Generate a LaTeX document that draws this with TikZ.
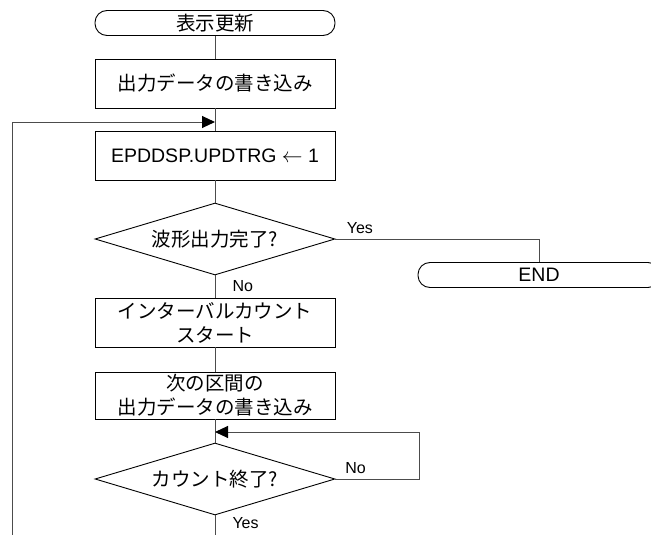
\documentclass[tikz,border=0pt]{standalone}
\usepackage{fontspec}
\setmainfont{Liberation Sans}
\newfontfamily\jpfont{Noto Sans CJK JP}
\usetikzlibrary{shapes.geometric,arrows.meta,calc}

\begin{document}
\begin{tikzpicture}[x=1pt,y=-1pt,
  box/.style={draw=black,line width=0.9pt,minimum width=240pt,minimum height=#1,
              inner sep=0pt,align=center,font=\fontsize{19.5}{24}\selectfont\jpfont},
  box/.default=49pt,
  terminal/.style={draw=black,line width=0.9pt,rounded corners=12pt,
                   minimum width=#1,minimum height=25pt,inner sep=0pt,
                   font=\fontsize{19.5}{24}\selectfont},
  terminal/.default=240pt,
  decision/.style={diamond,draw=black,line width=0.9pt,aspect=3.33,
                   minimum width=240pt,minimum height=72pt,inner sep=0pt,
                   font=\fontsize{19.5}{24}\selectfont\jpfont},
  line/.style={draw=black!70,line width=1pt},
  arrow/.style={line,-{Triangle[length=13pt,width=12pt,color=black]}},
  lbl/.style={font=\fontsize{16}{18}\selectfont,inner sep=0pt}
]
\useasboundingbox (0,0) rectangle (651,535);

\node[terminal] (start) at (215,23) {\jpfont 表示更新};
\node[box] (write) at (215,83.5) {出力データの書き込み};
\coordinate (join1) at (215,122);
\node[box,font=\fontsize{19.5}{24}\selectfont] (trig) at (215,155.5)
  {EPDDSP.UPDTRG $\leftarrow$ 1};
\node[decision] (done) at (215,239) {波形出力完了?};
\node[terminal=242pt] (fin) at (539,275) {END};
\node[box] (cntstart) at (215,322.5) {インターバルカウント\\スタート};
\node[box=47pt] (writenext) at (215,395.5) {次の区間の\\出力データの書き込み};
\coordinate (join2) at (215,432);
\node[decision] (cntend) at (215,479) {カウント終了?};
\coordinate (outbot) at (215,535);
\coordinate (inbot) at (12,535);

\draw[line] (start) -- (write);
\draw[line] (write) -- (trig);
\draw[line] (trig) -- (done);
\draw[line] (done.east) -| node[lbl,pos=0.06,above=5pt]{Yes} (fin.north);
\draw[line] (done.south) -- node[lbl,pos=0.5,right=17pt]{No} (cntstart);
\draw[line] (cntstart) -- (writenext);
\draw[line] (writenext) -- (cntend);
\draw[arrow] (cntend.east) -- ++(84,0) node[lbl,pos=0.24,above=5pt]{No} |- (join2);
\draw[line] (cntend.south) -- node[lbl,pos=0.4,right=17pt]{Yes} (outbot);
\draw[arrow] (inbot) |- (join1);
\end{tikzpicture}
\end{document}
